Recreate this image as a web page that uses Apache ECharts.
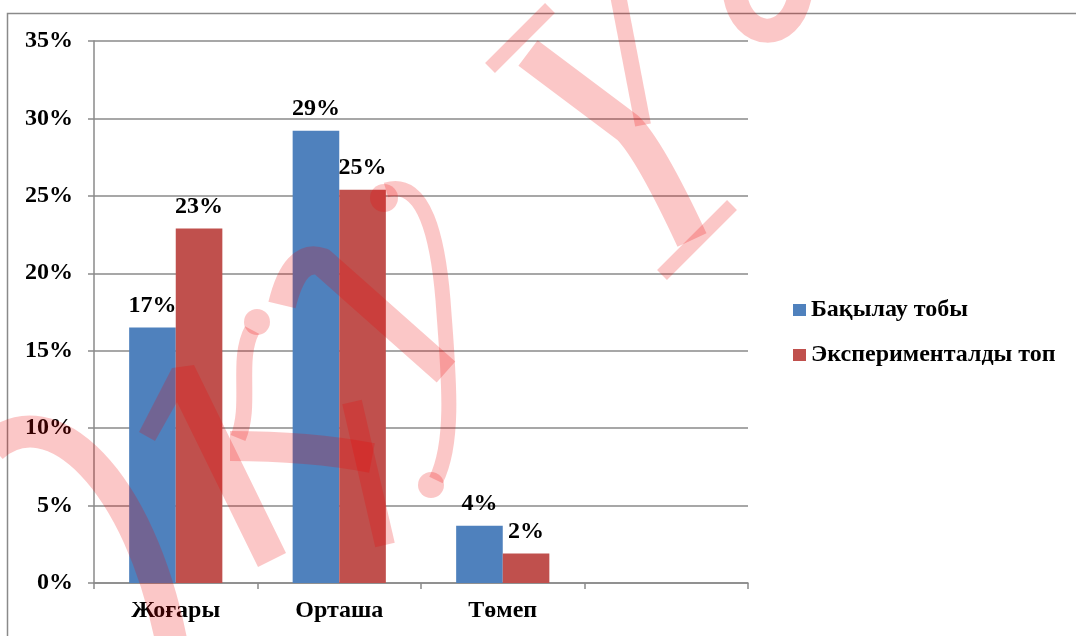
<!DOCTYPE html>
<html>
<head>
<meta charset="utf-8">
<script src="https://cdn.jsdelivr.net/npm/echarts@6/dist/echarts.min.js"></script>
<style>
  html, body { margin: 0; padding: 0; background: #ffffff; }
  #chart { width: 1076px; height: 636px; }
</style>
</head>
<body>
<div id="chart"></div>
<script>
// Category labels along the x axis (the fourth slot is intentionally empty)
const categories = ['Жоғары', 'Орташа', 'Төмеп', ''];

// Series names
const controlName = 'Бақылау тобы';
const experimentalName = 'Экспериментaлды топ'.replace('a', 'а');

// Shares per level, in percent
const controlValues = [16.5, 29.2, 3.7, null];
const experimentalValues = [22.9, 25.4, 1.9, null];

// Value axis range, in percent
const yMin = 0;
const yMax = 35;
const yStep = 5;

const FONT = '"Liberation Serif", "Times New Roman", serif';
const GRID_GRAY = '#8a8a8a';
const BLUE = '#4F81BD';
const RED = '#C0504D';
const INK = 'rgba(235, 0, 0, 0.22)';

const pctLabel = (p) => Math.round(p.value) + '%';

function barSeries(name, values, color) {
  return {
    name: name,
    type: 'bar',
    data: values,
    barGap: '0%',
    barCategoryGap: '43%',
    itemStyle: { color: color },
    label: {
      show: true,
      position: 'top',
      distance: 10,
      formatter: pctLabel,
      color: '#000',
      fontFamily: FONT,
      fontWeight: 'bold',
      fontSize: 24
    },
    emphasis: { disabled: true }
  };
}

// Stamp strokes layered over the plot; each outline is registered as its own shape
let shapeCount = 0;
function stroke(d, w) {
  const name = 'stampStroke' + (shapeCount++);
  echarts.graphic.registerShape(name, echarts.graphic.extendPath(d, {}));
  return { type: name, z: 100, silent: true,
    style: { fill: null, stroke: INK, lineWidth: w, lineCap: 'butt', lineJoin: 'round' } };
}
function blob(cx, cy, r) {
  return { type: 'circle', z: 100, silent: true,
    shape: { cx: cx, cy: cy, r: r }, style: { fill: INK } };
}
function poly(points) {
  return { type: 'polygon', z: 100, silent: true,
    shape: { points: points }, style: { fill: INK } };
}

const stamp = [
  stroke('M -8 447 C 50 395 140 478 172 645', 32),
  poly([[139, 432], [172, 368], [194, 365], [286, 553], [258, 567], [177, 402], [155, 441]]),
  blob(257, 322, 13),
  stroke('M 252 330 C 236 360 252 405 238 438', 16),
  stroke('M 230 446 C 270 446 320 448 372 458', 30),
  stroke('M 282 305 Q 295 252 322 262 L 446 372', 28),
  stroke('M 352 402 L 385 545', 20),
  blob(384, 198, 14),
  stroke('M 386 190 C 425 178 438 240 443 300 C 448 370 456 440 436 480', 15),
  blob(431, 485, 13),
  stroke('M 528 53 L 628 128 Q 650 150 692 240', 32),
  stroke('M 490 68 L 550 8', 14),
  stroke('M 618 -5 L 643 125', 16),
  stroke('M 662 275 L 732 205', 14),
  stroke('M 735 -5 C 742 40 790 45 800 -5', 24)
];

const chart = echarts.init(document.getElementById('chart'), null, { renderer: 'canvas' });

chart.setOption({
  backgroundColor: '#ffffff',
  animation: false,
  grid: { left: 94, right: 328, top: 41, bottom: 53, containLabel: false },
  legend: {
    orient: 'vertical',
    left: 788,
    top: 293,
    itemWidth: 13,
    itemHeight: 12,
    itemGap: 21,
    icon: 'rect',
    textStyle: { color: '#000', fontFamily: FONT, fontWeight: 'bold', fontSize: 24 },
    data: [controlName, experimentalName]
  },
  xAxis: {
    type: 'category',
    data: categories,
    axisLine: { lineStyle: { color: GRID_GRAY, width: 1.5 } },
    axisTick: { show: true, length: 6, lineStyle: { color: GRID_GRAY, width: 1.5 } },
    axisLabel: { color: '#000', fontFamily: FONT, fontWeight: 'bold', fontSize: 24, margin: 16 }
  },
  yAxis: {
    type: 'value',
    min: yMin,
    max: yMax,
    interval: yStep,
    axisLine: { show: true, lineStyle: { color: GRID_GRAY, width: 1.5 } },
    axisTick: { show: true, length: 6, lineStyle: { color: GRID_GRAY, width: 1.5 } },
    splitLine: { show: true, lineStyle: { color: GRID_GRAY, width: 1.5 } },
    axisLabel: {
      formatter: '{value}%',
      color: '#000', fontFamily: FONT, fontWeight: 'bold', fontSize: 24, margin: 21
    }
  },
  series: [
    barSeries(controlName, controlValues, BLUE),
    barSeries(experimentalName, experimentalValues, RED)
  ],
  graphic: [
    { type: 'rect', z: -1, silent: true,
      shape: { x: 7.5, y: 13.5, width: 1200, height: 800 },
      style: { fill: null, stroke: GRID_GRAY, lineWidth: 1.5 } }
  ].concat(stamp)
});
</script>
</body>
</html>
